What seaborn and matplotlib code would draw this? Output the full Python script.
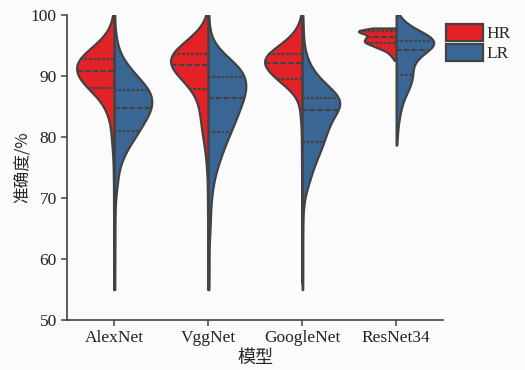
import numpy as np
import pandas as pd
import matplotlib
matplotlib.use("Agg")
import matplotlib.pyplot as plt
from matplotlib.patches import Patch
import seaborn as sns

models = ["AlexNet", "VggNet", "GoogleNet", "ResNet34"]
groups = ["HR", "LR"]

# Accuracy values (%) and how many test runs reached each value
alexnet_hr_acc = [55, 59, 63, 67, 70, 73, 75, 77, 78.5, 80, 81.5, 83, 84.1, 85.1, 86.1, 87.1, 88.1,
                  89.0, 89.95, 90.9, 91.9, 92.85, 93.8, 94.8, 95.8, 96.8, 97.8, 98.8, 100]
alexnet_hr_cnt = [1, 1, 1, 1, 1, 1, 1, 1, 2, 2, 3, 3, 4, 5, 7, 10, 14,
                  17, 19, 21, 22, 20, 16, 11, 7, 4, 2, 1, 1]

alexnet_lr_acc = [55, 58, 61, 63.5, 66, 68, 70, 71.5, 73, 74.2, 75.3, 76.3, 77.2, 78.1, 79.1, 80.05, 81.0,
                  82.0, 82.95, 83.9, 84.8, 85.8, 86.75, 87.7, 88.7, 89.7, 90.7, 91.7, 92.7, 93.8, 95, 96.5, 100]
alexnet_lr_cnt = [1, 1, 1, 1, 1, 1, 1, 2, 3, 2, 3, 4, 5, 6, 9, 11, 13,
                  14, 16, 18, 19, 20, 20, 19, 16, 13, 10, 7, 5, 3, 2, 2, 1]

vggnet_hr_acc = [55, 59, 63, 66.5, 69.5, 72, 74, 75.8, 77.4, 78.8, 80.1, 81.3, 82.5, 83.6, 84.7, 85.8,
                 86.9, 87.9, 88.9, 89.9, 90.9, 91.9, 92.8, 93.7, 94.6, 95.6, 96.6, 97.7, 98.8, 100]
vggnet_hr_cnt = [1, 1, 1, 1, 1, 1, 1, 2, 2, 3, 4, 4, 5, 5, 5, 6,
                 7, 9, 12, 16, 20, 22, 22, 20, 17, 13, 8, 5, 1, 1]

vggnet_lr_acc = [55, 57.5, 60, 62.5, 65, 67, 69, 70.8, 72.4, 73.8, 75.1, 76.3, 77.5, 78.6, 79.7, 80.8,
                 81.9, 83.0, 84.1, 85.2, 86.4, 87.5, 88.6, 89.8, 90.9, 92.0, 93.1, 94.3, 95.6, 97, 100]
vggnet_lr_cnt = [1, 1, 1, 1, 2, 2, 2, 3, 3, 4, 5, 6, 7, 8, 9, 11,
                 12, 13, 15, 16, 18, 19, 19, 19, 19, 14, 9, 5, 2, 1, 1]

googlenet_hr_acc = [56, 61, 66, 70, 73.5, 76.5, 79, 81.2, 83.2, 84.9, 86.3, 87.5, 88.5, 89.5, 90.4,
                    91.25, 92.1, 92.85, 93.6, 94.4, 95.3, 96.3, 97.4, 98.6, 100]
googlenet_hr_cnt = [1, 1, 1, 1, 1, 1, 1, 1, 2, 2, 3, 5, 10, 17, 16,
                    19, 21, 21, 19, 15, 11, 7, 5, 1, 1]

googlenet_lr_acc = [55, 58, 61, 64, 66.5, 68.5, 70.2, 71.6, 72.8, 74.0, 75.2, 76.3, 77.3, 78.3, 79.2, 80.2,
                    81.2, 82.2, 83.3, 84.4, 85.4, 86.4, 87.4, 88.4, 89.5, 90.6, 91.8, 93.1, 94.6, 96.3, 98, 100]
googlenet_lr_cnt = [1, 1, 1, 1, 1, 1, 2, 3, 5, 6, 7, 8, 9, 10, 11, 12,
                    14, 15, 17, 21, 23, 22, 18, 14, 10, 7, 5, 3, 2, 1, 1, 1]

resnet34_hr_acc = [92.6, 93.2, 93.7, 94.2, 94.6, 95.0, 95.5, 95.9, 96.45, 96.9, 97.35, 97.9]
resnet34_hr_cnt = [1, 2, 3, 4, 6, 9, 13, 12, 15, 5, 24, 10]

resnet34_lr_acc = [78.7, 80.5, 82.2, 83.6, 84.8, 85.9, 86.9, 87.8, 88.6, 89.4, 90.2, 91.0, 91.8, 92.6,
                   93.2, 93.8, 94.3, 94.8, 95.3, 95.8, 96.3, 96.8, 97.4, 98.0, 98.7, 99.4, 100]
resnet34_lr_cnt = [1, 2, 3, 4, 5, 6, 8, 9, 10, 11, 12, 11, 11, 12,
                   11, 12, 15, 17, 18, 18, 18, 15, 12, 8, 5, 3, 1]

records = {
    ("AlexNet", "HR"): (alexnet_hr_acc, alexnet_hr_cnt),
    ("AlexNet", "LR"): (alexnet_lr_acc, alexnet_lr_cnt),
    ("VggNet", "HR"): (vggnet_hr_acc, vggnet_hr_cnt),
    ("VggNet", "LR"): (vggnet_lr_acc, vggnet_lr_cnt),
    ("GoogleNet", "HR"): (googlenet_hr_acc, googlenet_hr_cnt),
    ("GoogleNet", "LR"): (googlenet_lr_acc, googlenet_lr_cnt),
    ("ResNet34", "HR"): (resnet34_hr_acc, resnet34_hr_cnt),
    ("ResNet34", "LR"): (resnet34_lr_acc, resnet34_lr_cnt),
}
frames = []
for (model, group), (acc, cnt) in records.items():
    vals = np.repeat(np.asarray(acc, dtype=float), cnt)
    frames.append(pd.DataFrame({"model": model, "group": group, "acc": vals}))
df = pd.concat(frames, ignore_index=True)

RED = "#e32228"
BLUE = "#3a6696"
EDGE = "#424242"
BG = "#fbfbfb"

sns.set_style("ticks")
plt.rcParams["font.family"] = ["Liberation Serif", "Noto Sans CJK SC"]
plt.rcParams["axes.unicode_minus"] = False

fig = plt.figure(figsize=(5.25, 3.7), dpi=100, facecolor=BG)
ax = fig.add_axes([0.128, 0.135, 0.716, 0.824])
ax.set_facecolor(BG)

sns.violinplot(data=df, x="model", y="acc", hue="group", order=models, hue_order=groups,
               split=True, inner="quart", cut=0, density_norm="width",
               palette=[RED, BLUE], saturation=1, linewidth=1.6, linecolor=EDGE,
               bw_adjust=0.8, legend=False, ax=ax)

ax.set_ylim(50, 100)
ax.set_xlim(-0.5, 3.5)
ax.set_yticks([50, 60, 70, 80, 90, 100])
ax.set_xlabel("模型", fontsize=13, family=["Noto Sans CJK SC"], labelpad=2)
ax.set_ylabel("准确度/%", fontsize=12, family=["Noto Sans CJK SC", "Liberation Serif"], labelpad=-1)
ax.tick_params(axis="both", labelsize=12.5, color=EDGE, width=1.1, length=4, labelcolor="#222222")
for s in ["top", "right"]:
    ax.spines[s].set_visible(False)
for s in ["left", "bottom"]:
    ax.spines[s].set_color(EDGE)
    ax.spines[s].set_linewidth(1.2)

handles = [Patch(facecolor=RED, edgecolor=EDGE, linewidth=1.6, label="HR"),
           Patch(facecolor=BLUE, edgecolor=EDGE, linewidth=1.6, label="LR")]
ax.legend(handles=handles, loc="upper left", bbox_to_anchor=(1.008, 0.972), frameon=False,
          fontsize=12.5, handlelength=2.1, handleheight=1.15, handletextpad=0.2,
          labelspacing=0.1, borderpad=0, borderaxespad=0)

fig.savefig("out.png", dpi=100, facecolor=fig.get_facecolor())
